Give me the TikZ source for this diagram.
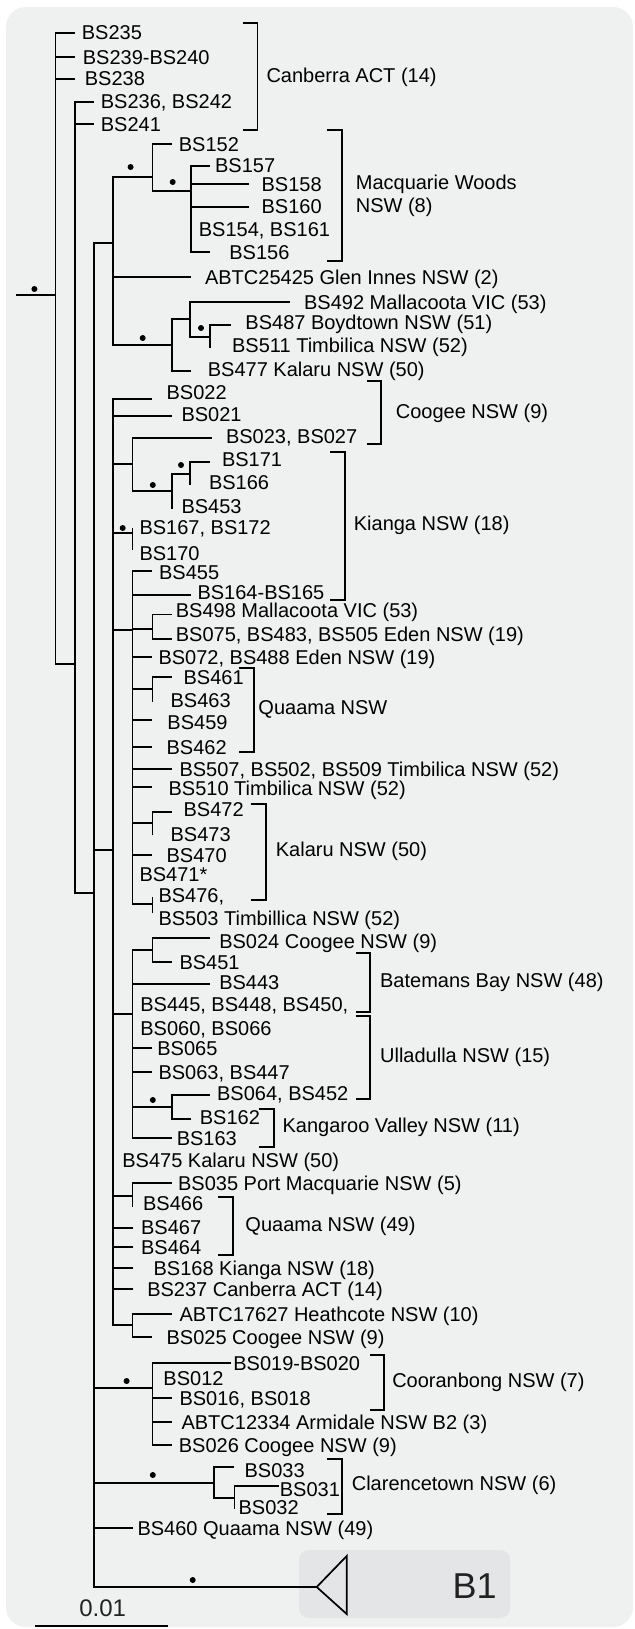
\documentclass[tikz,border=0pt]{standalone}
\usepackage{fontspec}
\setmainfont{Liberation Sans}
\definecolor{panel}{HTML}{EFF0F0}
\definecolor{cladebox}{HTML}{E4E5E6}
\definecolor{inkgrey}{HTML}{222222}
\begin{document}
\begin{tikzpicture}[x=0.5pt,y=-0.5pt,line width=0.85pt,
  lbl/.style={anchor=west,inner sep=0pt,text height=7.2pt,text depth=0pt,font=\fontsize{10}{12}\selectfont},
  bootdot/.style={circle,fill,inner sep=0pt,minimum size=3pt}]
\useasboundingbox (0,0) rectangle (634,1629);
\fill[panel,rounded corners=10pt] (6,7) rectangle (633,1627);
\fill[cladebox,rounded corners=5pt] (299,1550) rectangle (510,1618);
% backbone
\coordinate (root) at (16,295);
\coordinate (n1) at (55.4,295);
\coordinate (n2) at (74.8,664);
\coordinate (n3) at (94.2,893);
\draw (root) -- (n1);
\node[bootdot] (d0) at (34.4,289) {};
\draw (n1) |- (n2);
\draw (n2) |- (n3);
% Canberra
\coordinate (t235) at (74.8,33);
\coordinate (t239) at (74.8,57);
\coordinate (t238) at (74.8,79);
\coordinate (t236) at (94.2,102);
\coordinate (t241) at (94.2,124);
\draw (n1) |- (t235);
\draw (n1) |- (t239);
\draw (n1) |- (t238);
\draw (n2) |- (t236);
\draw (n2) |- (t241);
\node[lbl] (l235) at (81,32) {BS235};
\node[lbl] (l239) at (82,57) {BS239-BS240};
\node[lbl] (l238) at (84,78) {BS238};
\node[lbl] (l236) at (100,101) {BS236, BS242};
\node[lbl] (l241) at (100,124) {BS241};
\draw (242.6,23) -- (257.6,23) -- (257.6,130) -- (242.6,130);
\node[lbl] (gCanberra) at (265.7,75) {Canberra ACT (14)};
% first clade of n3
\coordinate (nA) at (113.2,243);
\coordinate (nMW) at (152.4,177);
\coordinate (nMW2) at (190.9,191);
\coordinate (nB) at (171.9,345);
\coordinate (nB2) at (190.3,319);
\coordinate (nB3) at (210.3,337);
\draw (n3) |- (nA);
\draw (nA) |- (nMW);
\draw (nMW) |- (nMW2);
\draw (nA) |- (nB);
\draw (nB) |- (nB2);
\draw (nB2) |- (nB3);
\node[bootdot] (d1) at (130.6,167) {};
\node[bootdot] (d2) at (172.7,182) {};
\node[bootdot] (d3) at (142.7,338) {};
\node[bootdot] (d4) at (201,328) {};
\coordinate (t152) at (171.9,144);
\coordinate (t157) at (210,166);
\coordinate (t158) at (248.7,184);
\coordinate (t160) at (248.7,207);
\coordinate (t154) at (190.9,229);
\coordinate (t156) at (210,252);
\coordinate (t25425) at (190.9,277);
\coordinate (t492) at (290.3,302);
\coordinate (t487) at (230.5,325);
\coordinate (t511) at (210.3,348);
\coordinate (t477) at (190.9,371);
\draw (nMW) |- (t152);
\draw (nMW2) |- (t157);
\draw (nMW2) |- (t158);
\draw (nMW2) |- (t160);
\draw (nMW2) |- (t154);
\draw (nMW2) |- (t156);
\draw (nA) |- (t25425);
\draw (nB2) |- (t492);
\draw (nB3) |- (t487);
\draw (nB3) |- (t511);
\draw (nB) |- (t477);
\node[lbl] (l152) at (178,144) {BS152};
\node[lbl] (l157) at (214.3,165) {BS157};
\node[lbl] (l158) at (260.8,184) {BS158};
\node[lbl] (l160) at (260.8,206) {BS160};
\node[lbl] (l154) at (198,229) {BS154, BS161};
\node[lbl] (l156) at (228.5,252) {BS156};
\draw (326.7,130) -- (341.7,130) -- (341.7,261) -- (326.7,261);
\node[lbl] (gMacq) at (355,182) {Macquarie Woods};
\node[lbl] (gMacq2) at (355,205) {NSW (8)};
\node[lbl] (l25425) at (204.2,277) {ABTC25425 Glen Innes NSW (2)};
\node[lbl] (l492) at (303.3,302) {BS492 Mallacoota VIC (53)};
\node[lbl] (l487) at (244.6,322) {BS487 Boydtown NSW (51)};
\node[lbl] (l511) at (231.3,345) {BS511 Timbilica NSW (52)};
\node[lbl] (l477) at (207,369) {BS477 Kalaru NSW (50)};
% large clade
\coordinate (nN) at (113.2,850);
\draw (n3) |- (nN);
\coordinate (t022) at (152.4,399);
\coordinate (t021) at (171.9,416);
\draw (nN) |- (t022);
\draw (nN) |- (t021);
\node[lbl] (l022) at (165.8,392) {BS022};
\node[lbl] (l021) at (180.7,414) {BS021};
\coordinate (nK1) at (132.6,464);
\coordinate (nK2) at (171.9,491);
\coordinate (nK3) at (190,474);
\coordinate (nK4) at (132.6,533);
\draw (nN) |- (nK1);
\draw (nK1) |- (nK2);
\draw (nK2) |- (nK3);
\draw (nN) |- (nK4);
\node[bootdot] (d5) at (152.8,485) {};
\node[bootdot] (d6) at (181,465) {};
\node[bootdot] (d7) at (122.7,528) {};
\coordinate (t023) at (212.3,438);
\coordinate (t171) at (210.3,462);
\coordinate (t166) at (190,485);
\coordinate (t453) at (171.9,509);
\coordinate (t167) at (132.6,528);
\coordinate (t170) at (132.6,550);
\draw (nK1) |- (t023);
\draw (nK3) |- (t171);
\draw (nK3) |- (t166);
\draw (nK2) |- (t453);
\draw (nK4) |- (t167);
\draw (nK4) |- (t170);
\node[lbl] (l023) at (225.2,436) {BS023, BS027};
\draw (367.2,381) -- (381.3,381) -- (381.3,444) -- (367.2,444);
\node[lbl] (gCoogee) at (395,411) {Coogee NSW (9)};
\node[lbl] (l171) at (221.2,459) {BS171};
\node[lbl] (l166) at (208.2,482) {BS166};
\node[lbl] (l453) at (180.7,506) {BS453};
\node[lbl] (l167) at (138.7,527) {BS167, BS172};
\node[lbl] (l170) at (138.7,553) {BS170};
\coordinate (nM) at (132.6,630);
\coordinate (nE) at (152.4,629);
\coordinate (nQa) at (152.4,689);
\coordinate (nKa) at (152.4,823);
\coordinate (nT) at (152.4,904);
\draw (nN) |- (nM);
\draw (nM) |- (nE);
\draw (nM) |- (nQa);
\draw (nM) |- (nKa);
\draw (nM) |- (nT);
\coordinate (t455) at (152.4,571);
\coordinate (t164) at (190.9,595);
\coordinate (t498) at (171.9,614.5);
\coordinate (t075) at (171.9,639);
\coordinate (t072) at (152.4,657);
\coordinate (t461) at (171.9,677);
\coordinate (t463) at (152.4,702);
\coordinate (t459) at (152.4,720);
\coordinate (t462) at (152.4,747);
\coordinate (t507) at (171.9,769);
\coordinate (t510) at (152.4,787);
\coordinate (t472) at (171.9,812);
\coordinate (t473) at (152.4,835);
\coordinate (t470) at (152.4,855);
\coordinate (t471) at (132.6,874);
\coordinate (t476) at (152.4,897);
\coordinate (t503) at (152.4,913);
\draw (nM) |- (t455);
\draw (nM) |- (t164);
\draw (nE) |- (t498);
\draw (nE) |- (t075);
\draw (nM) |- (t072);
\draw (nQa) |- (t461);
\draw (nQa) |- (t463);
\draw (nM) |- (t459);
\draw (nM) |- (t462);
\draw (nM) |- (t507);
\draw (nM) |- (t510);
\draw (nKa) |- (t472);
\draw (nKa) |- (t473);
\draw (nM) |- (t470);
\draw (nM) |- (t471);
\draw (nT) |- (t476);
\draw (nT) |- (t503);
\node[lbl] (l455) at (158.3,572) {BS455};
\node[lbl] (l164) at (196.7,592.3) {BS164-BS165};
\draw (330,600) -- (345,600) -- (345,452) -- (329.6,452);
\node[lbl] (gKianga) at (353,523) {Kianga NSW (18)};
\node[lbl] (l498) at (175,610.7) {BS498 Mallacoota VIC (53)};
\node[lbl] (l075) at (175,634) {BS075, BS483, BS505 Eden NSW (19)};
\node[lbl] (l072) at (157.7,657) {BS072, BS488 Eden NSW (19)};
\node[lbl] (l461) at (182.8,677) {BS461};
\node[lbl] (l463) at (169.8,700) {BS463};
\node[lbl] (l459) at (166.6,722) {BS459};
\node[lbl] (l462) at (165.8,747) {BS462};
\draw (239.4,668) -- (254,668) -- (254,752) -- (239.4,752);
\node[lbl] (gQuaama) at (257.6,707) {Quaama NSW};
\node[lbl] (l507) at (178.7,769) {BS507, BS502, BS509 Timbilica NSW (52)};
\node[lbl] (l510) at (167.8,788) {BS510 Timbilica NSW (52)};
\node[lbl] (l472) at (182.8,809) {BS472};
\node[lbl] (l473) at (169.8,834) {BS473};
\node[lbl] (l470) at (165.8,855) {BS470};
\node[lbl] (l471) at (138.7,874) {BS471*};
\node[lbl] (l476) at (157.7,895) {BS476,};
\node[lbl] (l503) at (157.7,918) {BS503 Timbillica NSW (52)};
\draw (250.7,804) -- (265.7,804) -- (265.7,900) -- (250.7,900);
\node[lbl] (gKalaru) at (275,849) {Kalaru NSW (50)};
% Batemans Bay / Ulladulla
\coordinate (nP) at (132.6,1014);
\coordinate (nBB) at (152.4,950);
\coordinate (nKV) at (171.9,1107);
\draw (nN) |- (nP);
\draw (nP) |- (nBB);
\draw (nP) |- (nKV);
\node[bootdot] (d8) at (152.8,1100) {};
\coordinate (t024) at (210.3,938);
\coordinate (t451) at (171.9,962);
\coordinate (t443) at (210.3,984);
\coordinate (t445) at (132.6,1004);
\coordinate (t060) at (132.6,1028);
\coordinate (t065) at (152.4,1048);
\coordinate (t063) at (152.4,1072);
\coordinate (t064) at (210.3,1095);
\coordinate (t162) at (190.9,1119);
\coordinate (t163) at (171.9,1138);
\draw (nBB) |- (t024);
\draw (nBB) |- (t451);
\draw (nP) |- (t443);
\draw (nP) |- (t445);
\draw (nP) |- (t060);
\draw (nP) |- (t065);
\draw (nP) |- (t063);
\draw (nKV) |- (t064);
\draw (nKV) |- (t162);
\draw (nP) |- (t163);
\node[lbl] (l024) at (218.4,941) {BS024 Coogee NSW (9)};
\node[lbl] (l451) at (178.7,962) {BS451};
\node[lbl] (l443) at (218.4,982) {BS443};
\node[lbl] (l445) at (139.5,1004) {BS445, BS448, BS450,};
\draw (355.8,953) -- (370,953) -- (370,1012) -- (355.8,1012);
\node[lbl] (gBatemans) at (379.3,980) {Batemans Bay NSW (48)};
\node[lbl] (l060) at (139.5,1028) {BS060, BS066};
\node[lbl] (l065) at (156.5,1048) {BS065};
\node[lbl] (l063) at (157.7,1072) {BS063, BS447};
\draw (355.8,1016) -- (370,1016) -- (370,1099) -- (355.8,1099);
\node[lbl] (gUlladulla) at (379.3,1055) {Ulladulla NSW (15)};
\node[lbl] (l064) at (216.3,1093) {BS064, BS452};
\node[lbl] (l162) at (199,1117) {BS162};
\node[lbl] (l163) at (175.9,1138) {BS163};
\draw (258.8,1109) -- (273.8,1109) -- (273.8,1147) -- (258.8,1147);
\node[lbl] (gKangaroo) at (281.8,1125) {Kangaroo Valley NSW (11)};
% rest of the large clade
\coordinate (t475) at (113.2,1160);
\coordinate (nQ) at (132.6,1196);
\coordinate (nH) at (132.6,1325);
\draw (nN) |- (t475);
\draw (nN) |- (nQ);
\draw (nN) |- (nH);
\coordinate (t035) at (171.9,1183);
\coordinate (t466) at (132.6,1207);
\coordinate (t467) at (132.6,1228);
\coordinate (t464) at (132.6,1247);
\coordinate (t168) at (132.6,1268);
\coordinate (t237) at (132.6,1289);
\coordinate (t17627) at (171.9,1314);
\coordinate (t025) at (152.4,1337);
\draw (nQ) |- (t035);
\draw (nQ) |- (t466);
\draw (nN) |- (t467);
\draw (nN) |- (t464);
\draw (nN) |- (t168);
\draw (nN) |- (t237);
\draw (nH) |- (t17627);
\draw (nH) |- (t025);
\node[lbl] (l475) at (121.5,1160) {BS475 Kalaru NSW (50)};
\node[lbl] (l035) at (177.3,1183) {BS035 Port Macquarie NSW (5)};
\node[lbl] (l466) at (142.3,1203) {BS466};
\node[lbl] (l467) at (140.3,1227) {BS467};
\node[lbl] (l464) at (140.3,1247) {BS464};
\draw (218.4,1197) -- (233.3,1197) -- (233.3,1255) -- (218.4,1255);
\node[lbl] (gQuaama49) at (244.6,1224) {Quaama NSW (49)};
\node[lbl] (l168) at (152.8,1268) {BS168 Kianga NSW (18)};
\node[lbl] (l237) at (146.4,1289) {BS237 Canberra ACT (14)};
\node[lbl] (l17627) at (178.7,1314) {ABTC17627 Heathcote NSW (10)};
\node[lbl] (l025) at (165.8,1337) {BS025 Coogee NSW (9)};
% Cooranbong
\coordinate (nC) at (152.4,1388);
\draw (n3) |- (nC);
\node[bootdot] (d9) at (126.6,1381) {};
\coordinate (t019) at (230.5,1363);
\coordinate (t012) at (152.4,1378);
\coordinate (t016) at (171.9,1398);
\coordinate (t12334) at (171.9,1422);
\coordinate (t026) at (171.9,1445);
\draw (nC) |- (t019);
\draw (nC) |- (t012);
\draw (nC) |- (t016);
\draw (nC) |- (t12334);
\draw (nC) |- (t026);
\node[lbl] (l019) at (232.5,1363) {BS019-BS020};
\node[lbl] (l012) at (162.6,1378) {BS012};
\node[lbl] (l016) at (178.7,1398) {BS016, BS018};
\node[lbl] (l12334) at (180.7,1422) {ABTC12334 Armidale NSW B2 (3)};
\node[lbl] (l026) at (178,1445) {BS026 Coogee NSW (9)};
\draw (370,1355) -- (384.1,1355) -- (384.1,1410) -- (370,1410);
\node[lbl] (gCooranbong) at (391.4,1380) {Cooranbong NSW (7)};
% Clarencetown
\coordinate (nK) at (214.3,1483);
\coordinate (nK5) at (234.5,1498);
\draw (n3) |- (nK);
\draw (nK) |- (nK5);
\node[bootdot] (d10) at (152.8,1475) {};
\coordinate (t033) at (233.7,1467);
\coordinate (t031) at (279,1486);
\coordinate (t032) at (234.5,1509);
\draw (nK) |- (t033);
\draw (nK5) |- (t031);
\draw (nK5) |- (t032);
\node[lbl] (l033) at (243.8,1470) {BS033};
\node[lbl] (l031) at (279,1489) {BS031};
\node[lbl] (l032) at (237.8,1507) {BS032};
\draw (326.7,1459) -- (341.7,1459) -- (341.7,1514) -- (326.7,1514);
\node[lbl] (gClarence) at (351,1483) {Clarencetown NSW (6)};
% BS460 and B1
\coordinate (t460) at (133.4,1528);
\draw (n3) |- (t460);
\node[lbl] (l460) at (136.7,1528) {BS460 Quaama NSW (49)};
\coordinate (tB1) at (316.7,1587);
\draw (n3) |- (tB1);
\node[bootdot] (d11) at (192.7,1580) {};
\draw (tB1) -- (346.7,1556) -- (346.7,1614) -- cycle;
\node[inkgrey,font=\fontsize{18}{20}\selectfont,inner sep=0pt] (gB1) at (474.6,1586) {B1};
% scale
\draw (35,1626) -- (168,1626);
\node[inkgrey,font=\fontsize{12}{14}\selectfont,inner sep=0pt] (scale) at (102.7,1608.5) {0.01};
\end{tikzpicture}
\end{document}
